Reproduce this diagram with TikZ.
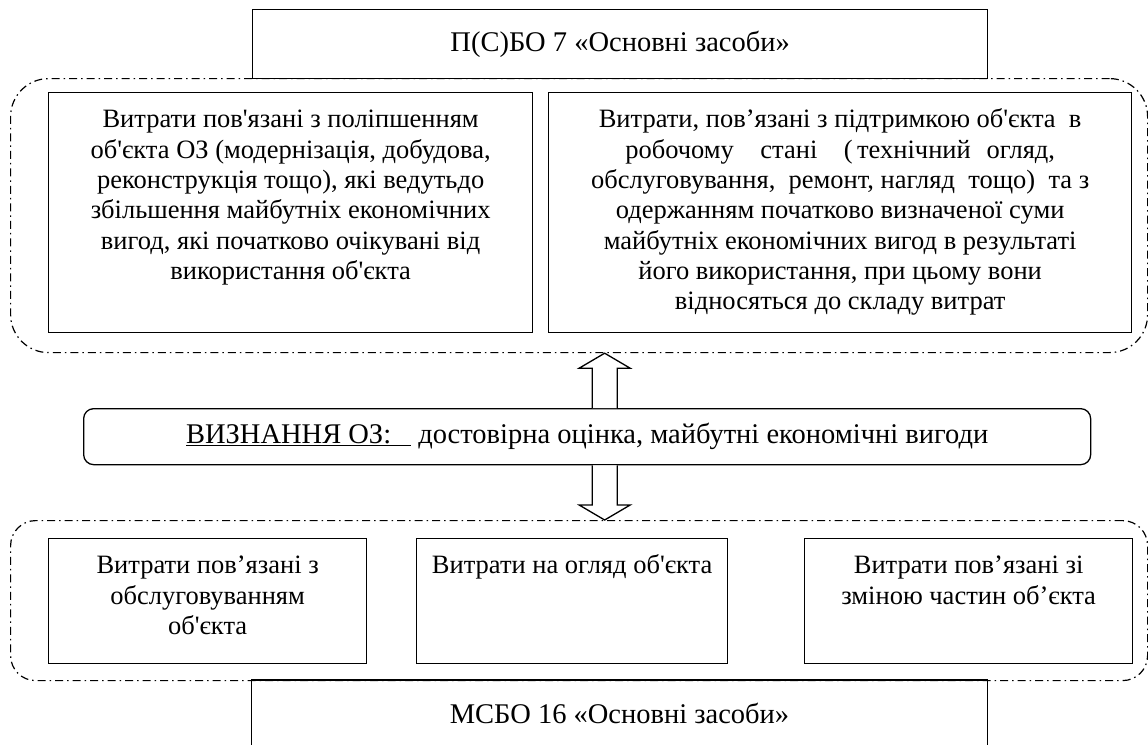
\documentclass[tikz,border=0pt]{standalone}
\usepackage{fontspec}
\setmainfont{Liberation Serif}[Ligatures=TeXOff]
\usetikzlibrary{calc}
\newcommand\fsz{\fontsize{26.5pt}{30.3pt}\selectfont}
\newcommand\fszb{\fontsize{28.5pt}{32pt}\selectfont}
\newcommand\bxt[3]{\parbox[c][#2][t]{#1}{\centering\fsz\vspace*{14pt}\strut #3\par}}
\begin{document}
\begin{tikzpicture}[x=1pt,y=-1pt,
  box/.style={draw, line width=1.3pt, inner sep=0pt, anchor=north west},
  grp/.style={draw, line width=1.2pt, dash pattern=on 8pt off 4pt on 1.5pt off 4pt, inner sep=0pt, anchor=north west},
  barrow/.style={draw, line width=1.3pt, fill=white, line join=miter}]
\useasboundingbox (0,0) rectangle (1148,744);
\node[grp, rounded corners=38pt, minimum width=1137pt, minimum height=274pt] (topgrp) at (10,78) {};
\node[grp, rounded corners=25pt, minimum width=1137pt, minimum height=160pt] (botgrp) at (10,520) {};
\node[box, minimum width=735pt, minimum height=69pt] (ps) at (252,9) {\fszb П(С)БО 7 «Основні засоби»};
\node[box] (lb) at (48,92) {\bxt{484pt}{240pt}{Витрати пов'язані з поліпшенням\\об'єкта ОЗ (модернізація, добудова,\\реконструкція тощо), які ведутьдо\\збільшення майбутніх економічних\\вигод, які початково очікувані від\\використання об'єкта}};
\node[box] (rb) at (548,92) {\bxt{583pt}{240pt}{Витрати, пов’язані з підтримкою об'єкта\ \ в\\робочому\hspace{1em}стані\hspace{1em}(\,технічний\hspace{0.6em}огляд,\\обслуговування,\ \ ремонт, нагляд\ \ тощо)\ \ та з\\одержанням початково визначеної суми\\майбутніх економічних вигод в результаті\\його використання, при цьому вони\\відносяться до складу витрат}};
\node[box, rounded corners=10pt, minimum width=1007pt, minimum height=56pt] (mid) at (83,408) {\fszb \underline{ВИЗНАННЯ ОЗ:\hspace{0.7em}} достовірна оцінка, майбутні економічні вигоди};
\node[box] (b1) at (48,538) {\bxt{318pt}{125pt}{Витрати пов’язані з\\обслуговуванням\\об'єкта}};
\node[box] (b2) at (416,538) {\bxt{311pt}{125pt}{Витрати на огляд об'єкта}};
\node[box] (b3) at (804,538) {\bxt{328pt}{125pt}{Витрати пов’язані зі\\зміною частин об’єкта}};
\node[inner sep=0pt, minimum width=735pt, minimum height=66pt, anchor=north] (msbo) at (619.5,680) {\fszb МСБО 16 «Основні засоби»};
\draw[line width=1.3pt] (msbo.south west) -- (msbo.north west) -- (msbo.north east) -- (msbo.south east);
\coordinate (ua0) at ([xshift=17.5pt]mid.north);
\coordinate (uat) at (ua0 |- topgrp.south);
\draw[barrow] ($(ua0)+(-12.5,0)$) -- ($(uat)+(-12.5,15)$) -- ($(uat)+(-25.5,15)$) -- (uat) -- ($(uat)+(25.5,15)$) -- ($(uat)+(12.5,15)$) -- ($(ua0)+(12.5,0)$);
\coordinate (da0) at ([xshift=17.5pt]mid.south);
\coordinate (dat) at (da0 |- botgrp.north);
\draw[barrow] ($(da0)+(-12.5,0)$) -- ($(dat)+(-12.5,-15)$) -- ($(dat)+(-25.5,-15)$) -- (dat) -- ($(dat)+(25.5,-15)$) -- ($(dat)+(12.5,-15)$) -- ($(da0)+(12.5,0)$);
\end{tikzpicture}
\end{document}
